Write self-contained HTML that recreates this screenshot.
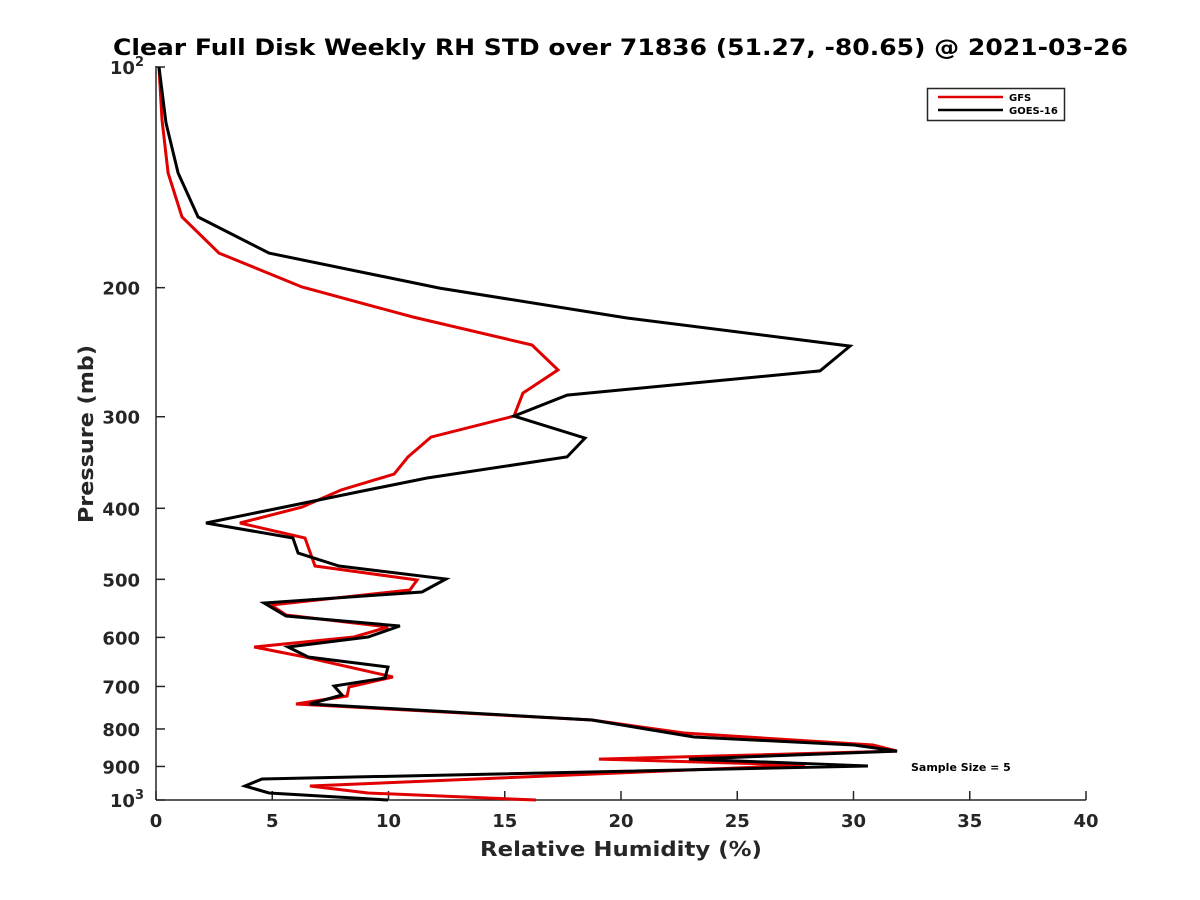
<!DOCTYPE html>
<html><head><meta charset="utf-8"><style>
html,body{margin:0;padding:0;background:#fff}
svg{display:block}
text{font-family:"DejaVu Sans","Liberation Sans",sans-serif;font-weight:bold;fill:#262626}
</style></head><body>
<svg id="chart" width="1200" height="900" viewBox="0 0 1200 900" xmlns="http://www.w3.org/2000/svg">
<rect width="1200" height="900" fill="#fff"/>
<text x="113" y="55" font-size="22" textLength="1015" lengthAdjust="spacingAndGlyphs" style="fill:#000">Clear Full Disk Weekly RH STD over 71836 (51.27, -80.65) @ 2021-03-26</text>
<g id="axes"></g>
<g id="series"></g>
<text x="480" y="856" font-size="20" textLength="282" lengthAdjust="spacingAndGlyphs">Relative Humidity (%)</text>
<text transform="translate(93,523) rotate(-90)" font-size="20" textLength="178" lengthAdjust="spacingAndGlyphs">Pressure (mb)</text>
<text x="911" y="771" font-size="11" style="fill:#000">Sample Size = 5</text>
<g>
<rect x="927.5" y="88.5" width="137" height="32" fill="#fff" stroke="#262626" stroke-width="1.5"/>
<line x1="938" y1="97" x2="1003" y2="97" stroke="#e00000" stroke-width="2.5"/>
<text x="1009" y="101" font-size="10" style="fill:#000">GFS</text>
<line x1="938" y1="110" x2="1003" y2="110" stroke="#000" stroke-width="2.5"/>
<text x="1009" y="114" font-size="10" style="fill:#000">GOES-16</text>
</g>
</svg>
<script>
const xTicks = [0,5,10,15,20,25,30,35,40];
const yTicks = [100,200,300,400,500,600,700,800,900,1000];
const yTickLabels = ["10²","200","300","400","500","600","700","800","900","10³"];
const gfsPressure = [100,118,139.5,160.2,179.4,199.6,219.3,239.5,259,278.5,299.4,319.8,340.4,359.2,377.7,398.5,418.9,439.1,479.5,501,517,542,559.3,580.8,599.2,618.4,638.1,679.5,701.2,721.2,739.6,777.9,810.3,841.4,857.5,879.3,896.1,957,978.3,1000];
const gfsValues = [0.13,0.26,0.52,1.12,2.71,6.28,11.05,16.17,17.29,15.78,15.4,11.83,10.84,10.24,7.96,6.28,3.61,6.41,6.84,11.23,10.92,4.95,5.59,9.98,8.52,4.22,6.41,10.19,8.3,8.22,6.02,18.75,22.71,30.84,31.87,19.05,27.91,6.62,9.12,16.34];
const goesPressure = [100,119.2,139.5,160.2,179.4,200.3,220,240.3,259.8,280.3,299.4,320.8,340.4,363.7,380.1,398.5,418.9,439.1,460.3,479.5,499.5,520.2,538.6,561.1,578.9,599.2,618.4,638.1,658.5,681.7,699,719,739.6,777.9,820.4,841.4,857.5,879.3,898.8,936.3,957,978.3,1000];
const goesValues = [0.13,0.43,0.95,1.81,4.86,12.2,20.26,29.85,28.56,17.68,15.4,18.45,17.68,11.66,8.65,5.5,2.15,5.89,6.11,7.87,12.47,11.44,4.65,5.59,10.49,9.12,5.68,6.54,9.98,9.85,7.66,8.0,6.62,18.75,23.14,30.02,31.87,22.92,30.62,4.56,3.83,4.86,9.98];

const X0=156,X1=1086,Y0=67,Y1=800;
function xs(v){return X0+(v-0)/(40-0)*(X1-X0);}
function ys(p){return Y0+(Math.log10(p)-2)*(Y1-Y0);}
const NS="http://www.w3.org/2000/svg";
function mk(tag,attrs,parent){const e=document.createElementNS(NS,tag);for(const k in attrs)e.setAttribute(k,attrs[k]);parent.appendChild(e);return e;}
const axes=document.getElementById('axes');
const yAxis=mk('line',{x1:X0,y1:Y0-1,x2:X0,y2:Y1,stroke:'#262626','stroke-width':1.5},axes);


const xAxis=mk('line',{x1:X0,y1:Y1,x2:X1,y2:Y1,stroke:'#262626','stroke-width':1.5},axes);


xTicks.forEach(t=>{
  const x=xs(t);
  const tk=mk('line',{x1:x,y1:Y1,x2:x,y2:Y1-9,stroke:'#262626','stroke-width':1.5},axes);
  
  
  const lb=mk('text',{x:x,y:Y1+27,'text-anchor':'middle','font-size':18},axes);
  lb.textContent=String(t);
  
  
});
yTicks.forEach((t,i)=>{
  const y=ys(t);
  const tk=mk('line',{x1:X0,y1:y,x2:X0+9,y2:y,stroke:'#262626','stroke-width':1.5},axes);
  
  
  const lb=mk('text',{x:X0-16,y:y+7,'text-anchor':'end','font-size':18},axes);
  const s=yTickLabels[i];
  if(s.indexOf('²')>=0||s.indexOf('³')>=0){
    lb.setAttribute('x',X0-12);
    lb.textContent=s.slice(0,2);
    const sp=mk('tspan',{dy:-8,'font-size':13},lb);
    sp.textContent=s.indexOf('²')>=0?'2':'3';
  } else lb.textContent=s;
  
  
});
const series=document.getElementById('series');
function draw(P,V,color,name){
  const pts=P.map((p,i)=>xs(V[i]).toFixed(1)+','+ys(p).toFixed(1)).join(' ');
  const pl=mk('polyline',{points:pts,fill:'none',stroke:color,'stroke-width':3,'stroke-linejoin':'miter','stroke-miterlimit':4},series);
  
  
}
draw(gfsPressure,gfsValues,'#e00000','gfs-line');
draw(goesPressure,goesValues,'#000000','goes16-line');
</script>
</body></html>
